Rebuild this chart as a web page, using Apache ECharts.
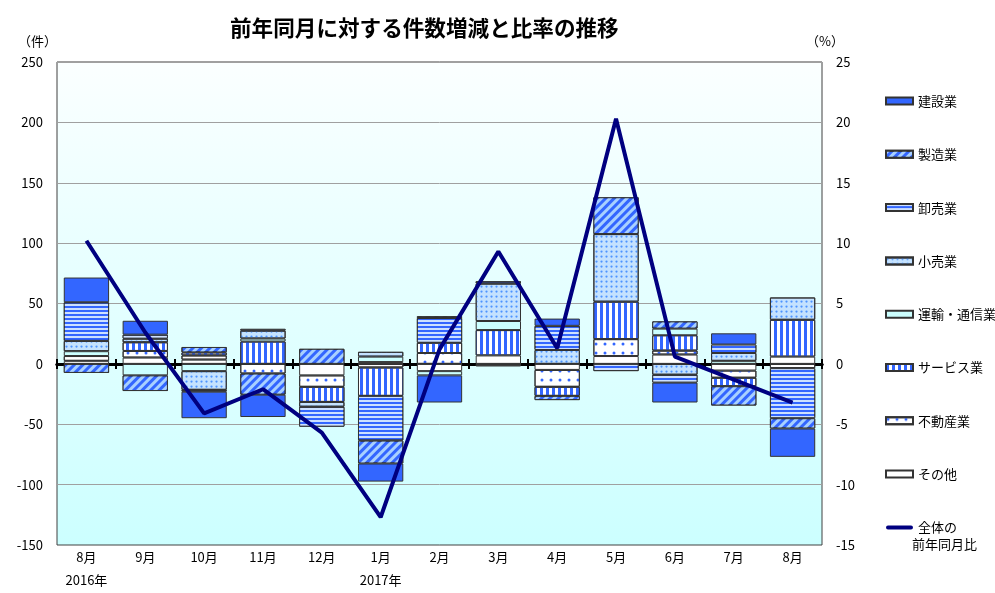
<!DOCTYPE html>
<html><head><meta charset="utf-8">
<script src="https://cdn.jsdelivr.net/npm/echarts@6/dist/echarts.min.js"></script>
<style>html,body{margin:0;padding:0;background:#fff}#c{width:995px;height:593px}</style>
</head><body><div id="c"></div>
<script>
const categories = ['8月\n2016年','9月','10月','11月','12月','1月\n2017年','2月','3月','4月','5月','6月','7月','8月'];
const leftTicks = [-150,-100,-50,0,50,100,150,200,250];
const rightTicks = [-15,-10,-5,0,5,10,15,20,25];
const kensetsu = [20.5, 11.5, -22, -18.5, 0, -15, -22.5, 0, 6, 0, -16.5, 9.3, -23.5];
const seizou   = [-7.5, -13, 4.5, -17.5, 12.5, -19, 1.5, 0, -3.5, 30.5, 6, -16, -8.5];
const oroshi   = [32, 3.3, -1.5, 1.5, -16.5, -37, 20.5, 2, 20, -6, -6.5, 7, -41.5];
const kouri    = [8.5, 3, -15.5, 6.5, -4, 4, 0, 31, 11.5, 56, -9, 6.5, 18.5];
const unyu     = [4, -9.5, -6, 2.5, 0, 4.5, -3.5, 7.5, 0, 0, 5.5, 2.5, 0];
const service  = [0, 7.2, 2.5, 18.5, -12.5, -23.5, 8.5, 21, -7.5, 31, 12.7, -7, 30.5];
const fudousan = [4, 5.5, 3.5, -8, -9.5, -3, 9, -2, -14, 14, 3.3, -6, -3.5];
const sonota   = [2.5, 5.2, 3.5, 0, -9.5, 1.5, -6, 7, -5, 6.5, 7.7, -5.5, 6];
const ratio    = [10.2, 2.6, -4.1, -2.1, -5.7, -12.7, 1.2, 9.3, 1.3, 20.3, 0.6, -1.3, -3.2];

const FONT = '"Noto Sans CJK JP", "Noto Sans", sans-serif';
const BLUE = '#3366FF';
const border = {borderColor:'#333', borderWidth:1};

function bar(name, data, color, decal){
  const it = Object.assign({color: color}, border);
  if (decal) it.decal = decal;
  return {name, type:'bar', stack:'s', data: data.map(v => v === 0 ? '-' : v),
    xAxisIndex:0, yAxisIndex:0, barCategoryGap:'23%', itemStyle: it};
}

const series = [
  bar('その他', sonota, '#FFFFFF'),
  bar('不動産業', fudousan, '#FFFFFF', {symbol:'circle', symbolSize:0.75, dashArrayX:[4,5], dashArrayY:[4,5], color:BLUE}),
  bar('サービス業', service, '#FFFFFF', {symbol:'rect', symbolSize:1, dashArrayX:[3,3], dashArrayY:[10,0], color:BLUE}),
  bar('運輸・通信業', unyu, '#CCFFFF'),
  bar('小売業', kouri, '#C4E2FF', {symbol:'circle', symbolSize:0.75, dashArrayX:[3,2], dashArrayY:[3,2], color:'#4D94FF'}),
  bar('卸売業', oroshi, BLUE, {symbol:'rect', symbolSize:1, dashArrayX:[10,0], dashArrayY:[2,2], color:'#CCE0FF'}),
  bar('製造業', seizou, BLUE, {symbol:'rect', symbolSize:1, dashArrayX:[10,0], dashArrayY:[3,3], rotation:-Math.PI/4, color:'#A8D0FF'}),
  bar('建設業', kensetsu, BLUE),
  {name:'全体の前年同月比', type:'line', data:ratio, xAxisIndex:0, yAxisIndex:1, showSymbol:false, symbol:'none', z:5,
   lineStyle:{color:'#000080', width:4}, itemStyle:{color:'#000080'}}
];

const chart = echarts.init(document.getElementById('c'));
chart.setOption({
  animation:false,
  textStyle:{fontFamily:FONT},
  title:{text:'前年同月に対する件数増減と比率の推移', left:225, top:12,
    textStyle:{fontFamily:FONT, fontSize:21.6, fontWeight:'bold', color:'#000'}},
  grid:{left:57, right:173, top:62, bottom:48, show:true, outerBoundsMode:'none', containLabel:false,
    borderColor:'#404040', borderWidth:1,
    backgroundColor:{type:'linear', x:0, y:0, x2:0, y2:1, colorStops:[{offset:0,color:'#FBFFFF'},{offset:1,color:'#CCFFFF'}]}},
  legend:{orient:'vertical', left:880, top:88, itemWidth:27, itemHeight:7, itemGap:37.3,
    data:[
      {name:'建設業', icon:'rect'},{name:'製造業', icon:'rect'},{name:'卸売業', icon:'rect'},{name:'小売業', icon:'rect'},
      {name:'運輸・通信業', icon:'rect'},{name:'サービス業', icon:'rect'},{name:'不動産業', icon:'rect'},{name:'その他', icon:'rect'},
      {name:'全体の前年同月比', icon:'path://M2,0 L25,0 A2,2 0 0 1 25,4 L2,4 A2,2 0 0 1 2,0 Z', itemStyle:{color:'#000080', borderWidth:0}}
    ],
    formatter: n => n === '全体の前年同月比' ? '全体の' : n,
    textStyle:{fontFamily:FONT, fontSize:13, color:'#000', lineHeight:16}},
  graphic:[
    {type:'text', left:912, top:538, style:{text:'前年同月比', font:'13px '+FONT, fill:'#000'}},
    {type:'text', left:18, top:35, style:{text:'（件）', font:'13px '+FONT, fill:'#000'}},
    {type:'text', left:806, top:35, style:{text:'（%）', font:'13px '+FONT, fill:'#000'}}
  ],
  xAxis:[
    {type:'category', data:categories, position:'bottom',
      axisLine:{show:false, onZero:false}, axisTick:{show:false},
      axisLabel:{fontFamily:FONT, fontSize:13, color:'#000', margin:1, lineHeight:23}},
    {type:'category', data:categories, position:'top',
      axisLine:{show:true, onZero:true, onZeroAxisIndex:0, lineStyle:{color:'#000', width:3}},
      axisTick:{show:true, length:5, lineStyle:{color:'#000', width:2}}, axisLabel:{show:false}},
    {type:'category', data:categories, position:'bottom',
      axisLine:{show:true, onZero:true, onZeroAxisIndex:0, lineStyle:{color:'#000', width:3}},
      axisTick:{show:true, length:5, lineStyle:{color:'#000', width:2}}, axisLabel:{show:false}}
  ],
  yAxis:[
    {type:'value', min:leftTicks[0], max:leftTicks[leftTicks.length-1], interval:50,
      axisLine:{show:false}, axisTick:{show:false},
      splitLine:{show:true, lineStyle:{color:'#A0A0A0', width:1}},
      axisLabel:{fontFamily:FONT, fontSize:13, color:'#000', margin:14}},
    {type:'value', min:rightTicks[0], max:rightTicks[rightTicks.length-1], interval:5,
      axisLine:{show:false}, axisTick:{show:false}, splitLine:{show:false},
      axisLabel:{fontFamily:FONT, fontSize:13, color:'#000', margin:14}}
  ],
  series: series
});
</script></body></html>
